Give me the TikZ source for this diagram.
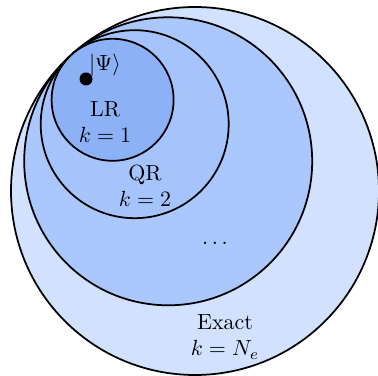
\documentclass[tikz,border=0pt]{standalone}
\begin{document}
\begin{tikzpicture}[x=0.16mm,y=-0.16mm,thick]
 \tikzset{lbl/.style={align=center,inner sep=0pt}}
 \useasboundingbox (0,0) rectangle (378,376);
 % nested sets, all touching at the top left
 \foreach \cx/\cy/\r/\col in {%
 195/191/184/{D1E1FE},
 168.2/161.3/144/{ABC8FE},
 134.7/124.2/94/{A5C3FC},
 112.6/99.8/61/{8DB1F6}}
 {
 \definecolor{fillc}{HTML}{\col}
 \filldraw[fill=fillc,draw=black] (\cx,\cy) circle (\r);
 }
 \fill (86,79) circle (6.5) coordinate (psi);
 \node[anchor=south west,inner sep=1pt] (psilab) at (psi) {$|\Psi\rangle$};
 \node[lbl] (lr) at (105,122) {LR\\$k=1$};
 \node[lbl] (qr) at (145,186) {QR\\$k=2$};
 \node (dots) at (215,243) {$\dots$};
 \node[lbl] (exact) at (225,337) {Exact\\$k=N_e$};
\end{tikzpicture}
\end{document}
